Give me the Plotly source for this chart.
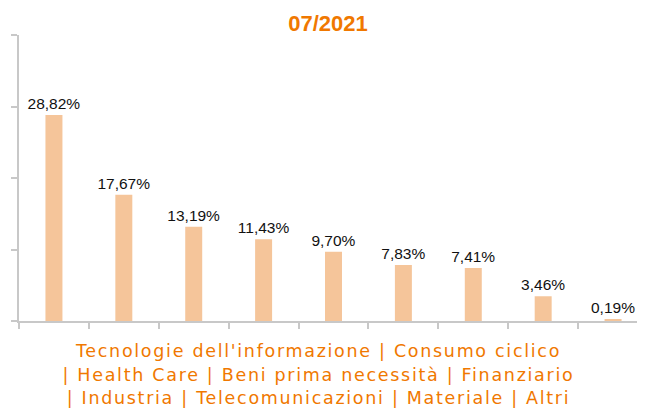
import plotly.graph_objects as go

categories = ["Tecnologie dell'informazione", "Consumo ciclico", "Health Care",
              "Beni prima necessità", "Finanziario", "Industria",
              "Telecomunicazioni", "Materiale", "Altri"]
values = [28.82, 17.67, 13.19, 11.43, 9.70, 7.83, 7.41, 3.46, 0.19]
labels = ["28,82%", "17,67%", "13,19%", "11,43%", "9,70%", "7,83%", "7,41%", "3,46%", "0,19%"]
title_text = "07/2021"
y_ticks = [0, 10, 20, 30, 40]

# category legend lines (as in the reference, joined with " | ")
legend_lines = [
    "Tecnologie dell'informazione | Consumo ciclico",
    "| Health Care | Beni prima necessità | Finanziario",
    "| Industria | Telecomunicazioni | Materiale | Altri",
]

orange = "#F07800"
bar_color = "#F5C59A"
axis_color = "#C8C8C8"

W, H = 645, 410
ML, MR, MT, MB = 9, 5, 27, 97
plot_h = H - MT - MB
plot_w = W - ML - MR

fig = go.Figure(go.Bar(
    x=categories, y=values, text=labels, textposition="outside",
    constraintext="none",
    textfont=dict(family="Liberation Sans, Arial, sans-serif", size=15.5, color="#111111"),
    marker=dict(color=bar_color, line=dict(width=0)),
    width=0.243, cliponaxis=False, hoverinfo="skip",
))

def py(fig_y):
    # figure pixel y -> paper coordinate
    return (H - MB - fig_y) / plot_h

def px(fig_x):
    return (fig_x - ML) / plot_w

line_centers = [343, 367, 390]
annotations = [dict(text=t, xref="paper", yref="paper", x=px(309), y=py(c),
                    xanchor="center", yanchor="middle", showarrow=False, align="center",
                    borderpad=0,
                    font=dict(family="DejaVu Sans, Verdana, sans-serif", size=17.5, color=orange))
               for t, c in zip(legend_lines, line_centers)]

fig.update_layout(
    width=W, height=H,
    margin=dict(l=ML, r=MR, t=MT, b=MB, pad=0),
    paper_bgcolor="white", plot_bgcolor="white",
    showlegend=False,
    title=dict(text="<b>" + title_text + "</b>", x=320 / W, xanchor="center",
               y=1 - 15 / H, yanchor="middle",
               font=dict(family="Liberation Sans, Arial, sans-serif", size=22, color=orange)),
    xaxis=dict(type="category", showticklabels=False, showline=True, linecolor=axis_color, linewidth=2,
               ticks="outside", tickson="boundaries", ticklen=6, tickwidth=2, tickcolor=axis_color,
               showgrid=False, range=[-0.5, 8.5], fixedrange=True),
    yaxis=dict(range=[0, 40], tickvals=y_ticks, showticklabels=False, showline=True,
               linecolor=axis_color, linewidth=2, ticks="outside", ticklen=6, tickwidth=2,
               tickcolor=axis_color, showgrid=False, zeroline=False, fixedrange=True),
    annotations=annotations,
)

post = ("document.querySelectorAll('.annotation-text').forEach(function(e){"
        "e.style.letterSpacing='1.7px';});")

fig.write_html("out.html", post_script=post)
